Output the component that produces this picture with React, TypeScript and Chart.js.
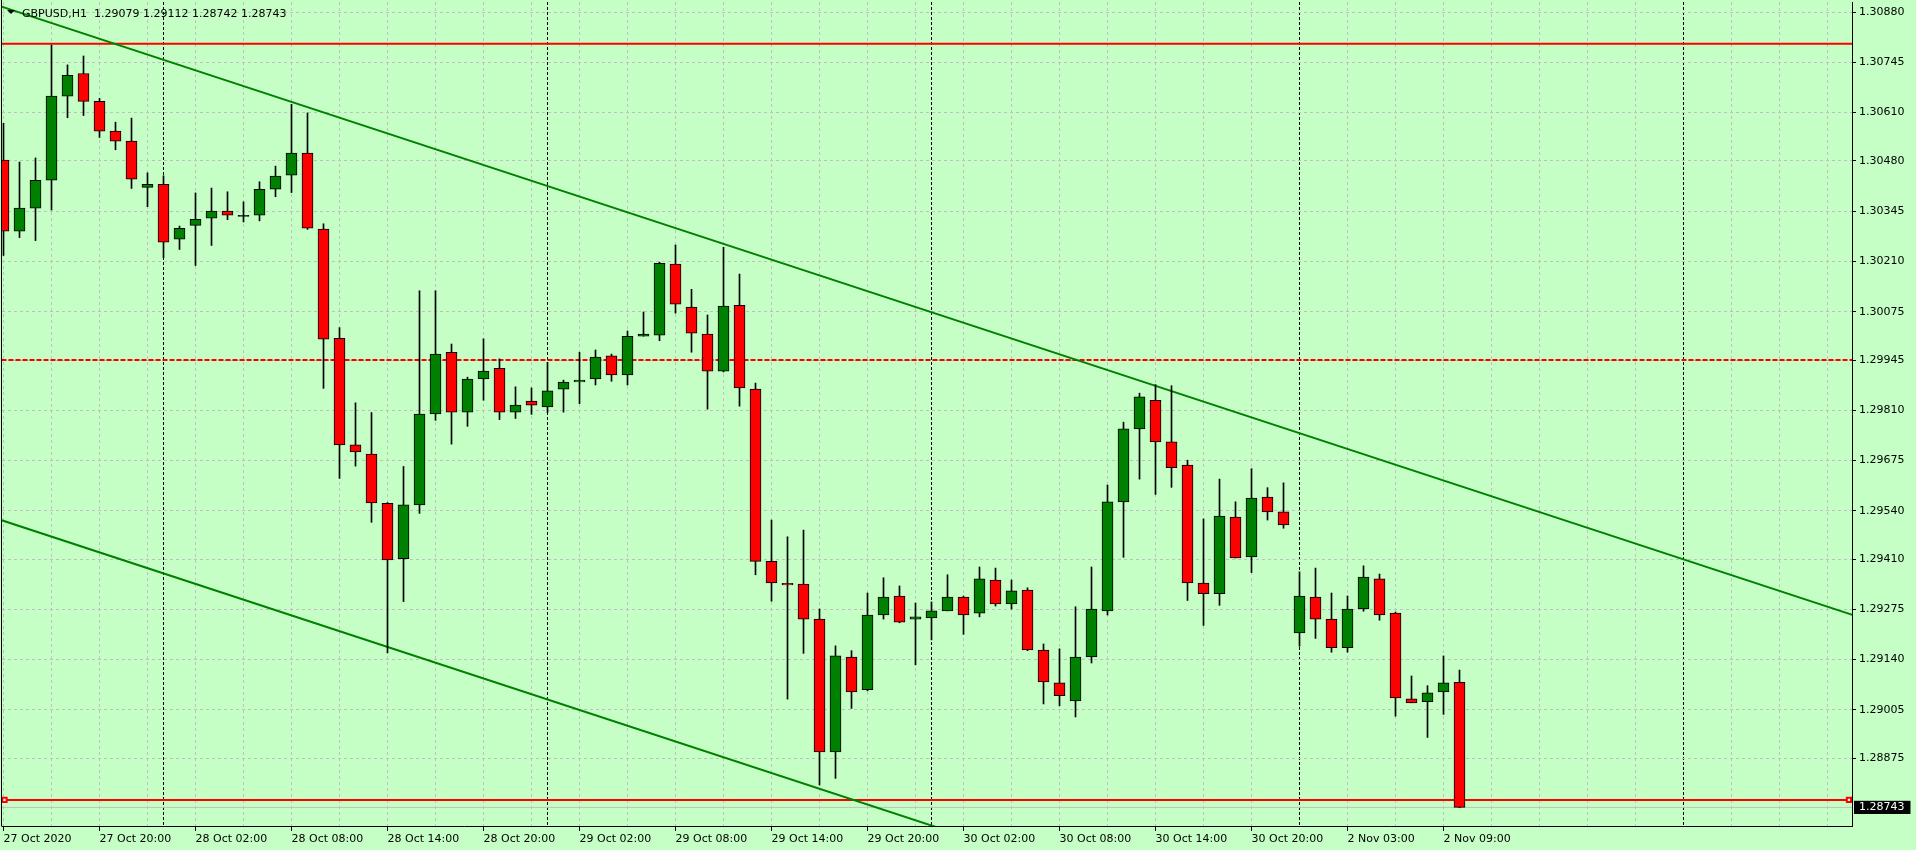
import React, { useEffect, useRef } from 'react';
import { Chart, registerables } from 'chart.js';

Chart.register(...registerables);

// ---- header text ----
const headerText = 'GBPUSD,H1  1.29079 1.29112 1.28742 1.28743';

// ---- candle data (H1 bars, index 0 = 27 Oct 14:00) ----
const opens = [
  1.30482, 1.30291, 1.30353, 1.30428, 1.30654, 1.30715, 1.30640, 1.30560, 1.30533, 1.30409,
  1.30417, 1.30270, 1.30307, 1.30326, 1.30345, 1.30331, 1.30334, 1.30404, 1.30442, 1.30501,
  1.30297, 1.30003, 1.29717, 1.29692, 1.29560, 1.29411, 1.29556, 1.29800, 1.29966, 1.29805,
  1.29894, 1.29923, 1.29805, 1.29835, 1.29819, 1.29867, 1.29886, 1.29894, 1.29956, 1.29905,
  1.30009, 1.30012, 1.30203, 1.30087, 1.30015, 1.29915, 1.30092, 1.29867, 1.29404, 1.29345,
  1.29343, 1.29249, 1.28892, 1.29147, 1.29059, 1.29260, 1.29311, 1.29249, 1.29252, 1.29271,
  1.29308, 1.29265, 1.29354, 1.29290, 1.29327, 1.29166, 1.29078, 1.29029, 1.29147, 1.29271,
  1.29564, 1.29760, 1.29837, 1.29725, 1.29663, 1.29346, 1.29317, 1.29523, 1.29416, 1.29577,
  1.29537, 1.29212, 1.29308, 1.29249, 1.29172, 1.29276, 1.29357, 1.29265, 1.29035, 1.29027,
  1.29053, 1.29079,
];
const highs = [
  1.30581, 1.30477, 1.30488, 1.30791, 1.30738, 1.30762, 1.30648, 1.30584, 1.30595, 1.30448,
  1.30440, 1.30305, 1.30394, 1.30407, 1.30397, 1.30370, 1.30424, 1.30466, 1.30632, 1.30609,
  1.30311, 1.30032, 1.29830, 1.29804, 1.29562, 1.29659, 1.30131, 1.30131, 1.29988, 1.29899,
  1.30002, 1.29948, 1.29873, 1.29870, 1.29939, 1.29891, 1.29966, 1.29972, 1.29961, 1.30023,
  1.30074, 1.30208, 1.30254, 1.30135, 1.30066, 1.30248, 1.30176, 1.29883, 1.29515, 1.29470,
  1.29488, 1.29276, 1.29177, 1.29164, 1.29319, 1.29360, 1.29338, 1.29292, 1.29295, 1.29368,
  1.29311, 1.29389, 1.29386, 1.29354, 1.29333, 1.29182, 1.29169, 1.29282, 1.29389, 1.29609,
  1.29778, 1.29856, 1.29879, 1.29876, 1.29676, 1.29518, 1.29625, 1.29564, 1.29653, 1.29602,
  1.29615, 1.29376, 1.29386, 1.29319, 1.29311, 1.29392, 1.29370, 1.29268, 1.29096, 1.29070,
  1.29150, 1.29112,
];
const lows = [
  1.30226, 1.30274, 1.30266, 1.30348, 1.30596, 1.30602, 1.30543, 1.30510, 1.30406, 1.30357,
  1.30220, 1.30242, 1.30199, 1.30253, 1.30322, 1.30316, 1.30319, 1.30384, 1.30395, 1.30296,
  1.29869, 1.29627, 1.29660, 1.29509, 1.29158, 1.29296, 1.29533, 1.29783, 1.29719, 1.29767,
  1.29837, 1.29785, 1.29788, 1.29799, 1.29804, 1.29805, 1.29828, 1.29878, 1.29888, 1.29878,
  1.30009, 1.29997, 1.30071, 1.29966, 1.29813, 1.29913, 1.29821, 1.29368, 1.29297, 1.29034,
  1.29157, 1.28803, 1.28821, 1.29009, 1.29056, 1.29249, 1.29239, 1.29126, 1.29193, 1.29271,
  1.29208, 1.29255, 1.29284, 1.29276, 1.29164, 1.29021, 1.29016, 1.28986, 1.29131, 1.29260,
  1.29415, 1.29625, 1.29584, 1.29603, 1.29299, 1.29232, 1.29286, 1.29413, 1.29374, 1.29515,
  1.29493, 1.29176, 1.29197, 1.29160, 1.29160, 1.29270, 1.29246, 1.28988, 1.29024, 1.28931,
  1.28993, 1.28742,
];
const closes = [
  1.30291, 1.30353, 1.30428, 1.30654, 1.30710, 1.30640, 1.30560, 1.30533, 1.30431, 1.30417,
  1.30262, 1.30299, 1.30323, 1.30345, 1.30334, 1.30331, 1.30404, 1.30439, 1.30501, 1.30299,
  1.30001, 1.29717, 1.29698, 1.29561, 1.29408, 1.29556, 1.29800, 1.29961, 1.29805, 1.29894,
  1.29915, 1.29805, 1.29824, 1.29824, 1.29862, 1.29886, 1.29891, 1.29953, 1.29905, 1.30009,
  1.30015, 1.30205, 1.30095, 1.30017, 1.29915, 1.30090, 1.29870, 1.29404, 1.29346, 1.29341,
  1.29249, 1.28892, 1.29150, 1.29053, 1.29260, 1.29308, 1.29241, 1.29255, 1.29271, 1.29308,
  1.29260, 1.29357, 1.29290, 1.29325, 1.29166, 1.29080, 1.29043, 1.29147, 1.29276, 1.29564,
  1.29760, 1.29846, 1.29725, 1.29656, 1.29346, 1.29317, 1.29526, 1.29413, 1.29574, 1.29537,
  1.29502, 1.29311, 1.29249, 1.29172, 1.29276, 1.29362, 1.29260, 1.29037, 1.29024, 1.29051,
  1.29078, 1.28743,
];

// ---- time axis ----
const labelIndices = [0, 6, 12, 18, 24, 30, 36, 42, 48, 54, 60, 66, 72, 78, 84, 90];
const timeLabels = [
  '27 Oct 2020', '27 Oct 20:00', '28 Oct 02:00', '28 Oct 08:00', '28 Oct 14:00', '28 Oct 20:00',
  '29 Oct 02:00', '29 Oct 08:00', '29 Oct 14:00', '29 Oct 20:00', '30 Oct 02:00', '30 Oct 08:00',
  '30 Oct 14:00', '30 Oct 20:00', '2 Nov 03:00', '2 Nov 09:00',
];
const daySeparators = [10, 34, 58, 81, 105];
const gridStepBars = 3;
const xMin = -0.09375;
const xMax = 115.53125;

// ---- price axis ----
const priceTicks = [
  1.28875, 1.29005, 1.29140, 1.29275, 1.29410, 1.29540, 1.29675, 1.29810,
  1.29945, 1.30075, 1.30210, 1.30345, 1.30480, 1.30610, 1.30745, 1.30880,
];
const bidPrice = 1.28743;
const yMin = 1.28693;
const yMax = 1.30907;

// ---- drawn objects (bar index, price) ----
const resistanceLevel = 1.30795;
const pivotLevel = 1.29945;
const supportLevel = 1.28763;
const supportAnchors = [0.0625, 115.34];
const upperTrendIdx = [-1, 116];
const upperTrendPrice = [1.30907, 1.29254];
const lowerTrendIdx = [-1, 60];
const lowerTrendPrice = [1.29527, 1.28666];

const BG = '#c6ffc6';
const GRID = '#c0c0c0';
const BULL = '#008000';
const BEAR = '#ff0000';
const FONT = { family: '"DejaVu Sans"', size: 11 };

const bgPlugin = {
  id: 'bgFill',
  beforeDraw(chart: any) {
    const { ctx, width, height } = chart;
    ctx.save();
    ctx.fillStyle = BG;
    ctx.fillRect(0, 0, width, height);
    ctx.restore();
  },
};

const framePlugin = {
  id: 'frameAndHeader',
  afterDraw(chart: any) {
    const { ctx, chartArea: a } = chart;
    ctx.save();
    ctx.strokeStyle = '#000';
    ctx.lineWidth = 1;
    ctx.setLineDash([]);
    ctx.beginPath();
    ctx.moveTo(a.left - 0.5, a.bottom + 0.5);
    ctx.lineTo(a.left - 0.5, a.top - 2);
    ctx.stroke();
    // header
    ctx.fillStyle = '#000';
    ctx.beginPath();
    ctx.moveTo(7, 10);
    ctx.lineTo(15, 10);
    ctx.lineTo(11, 14);
    ctx.closePath();
    ctx.fill();
    ctx.font = '11px "DejaVu Sans"';
    ctx.textBaseline = 'alphabetic';
    ctx.textAlign = 'left';
    ctx.fillText(headerText, 22, 17);
    ctx.restore();
  },
};

export default function App() {
  const ref = useRef<HTMLCanvasElement>(null);

  useEffect(() => {
    const canvas = ref.current;
    if (!canvas) return;
    const idx = opens.map((_, i) => i);
    const bodyColors = idx.map((i) =>
      closes[i] > opens[i] ? BULL : closes[i] < opens[i] ? BEAR : '#000000'
    );
    const gridIdx: number[] = [];
    for (let v = 0; v <= xMax; v += gridStepBars) gridIdx.push(v);
    const xTickValues = Array.from(new Set([...gridIdx, ...daySeparators])).sort((p, q) => p - q);
    const labelFor = (v: number) => {
      const k = labelIndices.indexOf(v);
      return k >= 0 ? timeLabels[k] : '';
    };
    const isSep = (v: any) => daySeparators.indexOf(v) >= 0;
    const yTickValues = [bidPrice, ...priceTicks].sort((p, q) => p - q);
    const isBid = (v: any) => Math.abs(v - bidPrice) < 1e-9;

    const hLine = (y: number, xs: number[]) => xs.map((x) => ({ x, y }));

    const chart = new Chart(canvas, {
      type: 'bar',
      data: {
        datasets: [
          {
            type: 'line',
            label: 'upper trend',
            data: upperTrendIdx.map((x, k) => ({ x, y: upperTrendPrice[k] })),
            borderColor: BULL,
            borderWidth: 2,
            pointRadius: 0,
            pointHoverRadius: 0,
            fill: false,
            clip: 0,
            order: 3,
          },
          {
            type: 'line',
            label: 'lower trend',
            data: lowerTrendIdx.map((x, k) => ({ x, y: lowerTrendPrice[k] })),
            borderColor: BULL,
            borderWidth: 2,
            pointRadius: 0,
            pointHoverRadius: 0,
            fill: false,
            clip: 0,
            order: 3,
          },
          {
            type: 'line',
            label: 'resistance',
            data: hLine(resistanceLevel, [-1, 116]),
            borderColor: BEAR,
            borderWidth: 2,
            pointRadius: 0,
            pointHoverRadius: 0,
            clip: 0,
            order: 3,
          },
          {
            type: 'line',
            label: 'pivot',
            data: hLine(pivotLevel, [-1, 116]),
            borderColor: BEAR,
            borderWidth: 2,
            borderDash: [5, 2],
            pointRadius: 0,
            pointHoverRadius: 0,
            clip: 0,
            order: 3,
          },
          {
            type: 'line',
            label: 'bid',
            data: hLine(bidPrice, [-1, 116]),
            borderColor: GRID,
            borderWidth: 1,
            pointRadius: 0,
            pointHoverRadius: 0,
            clip: 0,
            order: 3,
          },
          {
            type: 'line',
            label: 'support',
            data: hLine(supportLevel, [-1, supportAnchors[0], supportAnchors[1], 116]),
            borderColor: BEAR,
            borderWidth: 2,
            pointRadius: [0, 3, 3, 0],
            pointHoverRadius: 0,
            pointStyle: 'rect',
            pointBackgroundColor: '#ffffff',
            pointBorderColor: BEAR,
            pointBorderWidth: 2,
            clip: 0,
            order: 3,
          },
          {
            type: 'bar',
            label: 'wicks',
            data: idx.map((i) => ({ x: i, y: [lows[i], highs[i]] })),
            backgroundColor: '#000000',
            borderWidth: 0,
            barThickness: 1,
            grouped: false,
            order: 2,
          },
          {
            type: 'bar',
            label: 'bodies',
            data: idx.map((i) => ({ x: i, y: [opens[i], closes[i]] })),
            backgroundColor: bodyColors,
            borderColor: '#000000',
            borderWidth: 1,
            borderSkipped: false,
            barThickness: 11,
            minBarLength: 1,
            grouped: false,
            order: 1,
          },
        ] as any,
      },
      options: {
        animation: false,
        responsive: false,
        devicePixelRatio: 1,
        events: [],
        layout: { autoPadding: false, padding: { left: 2, top: 2, right: 0, bottom: 0 } },
        plugins: {
          legend: { display: false },
          tooltip: { enabled: false },
          title: { display: false },
        },
        scales: {
          x: {
            type: 'linear',
            min: xMin,
            max: xMax,
            bounds: 'data',
            offset: false,
            afterBuildTicks: (s: any) => {
              s.ticks = xTickValues.map((v) => ({ value: v }));
            },
            afterFit: (s: any) => {
              s.height = 24;
              s.paddingLeft = 0;
              s.paddingRight = 0;
            },
            ticks: {
              autoSkip: false,
              maxRotation: 0,
              minRotation: 0,
              align: 'start',
              padding: 2,
              color: '#000',
              font: FONT,
              callback: (v: any) => labelFor(Number(v)),
            },
            grid: {
              offset: false,
              color: (c: any) => (c.tick && isSep(c.tick.value) ? '#000000' : GRID),
              lineWidth: 1,
              tickLength: 5,
              tickColor: (c: any) =>
                c.tick && labelIndices.indexOf(c.tick.value) >= 0 ? '#000000' : 'rgba(0,0,0,0)',
            },
            border: {
              display: true,
              color: '#000',
              width: 1,
              dash: (c: any) => (c.tick && isSep(c.tick.value) ? [3, 2] : [3, 3]),
            },
          },
          y: {
            type: 'linear',
            position: 'right',
            min: yMin,
            max: yMax,
            bounds: 'data',
            afterBuildTicks: (s: any) => {
              s.ticks = yTickValues.map((v) => ({ value: v }));
            },
            afterFit: (s: any) => {
              s.width = 64;
              s.paddingTop = 0;
              s.paddingBottom = 0;
            },
            ticks: {
              autoSkip: false,
              padding: 3,
              font: FONT,
              color: (c: any) => (c.tick && isBid(c.tick.value) ? '#ffffff' : '#000000'),
              callback: (v: any) => Number(v).toFixed(5),
              showLabelBackdrop: (c: any) => !!(c.tick && isBid(c.tick.value)),
              backdropColor: '#000000',
              backdropPadding: { left: 5, right: 6, top: 0, bottom: 0 },
            },
            grid: {
              color: (c: any) => (c.tick && isBid(c.tick.value) ? 'rgba(0,0,0,0)' : GRID),
              lineWidth: 1,
              tickLength: 4,
              tickColor: (c: any) =>
                c.tick && isBid(c.tick.value) ? 'rgba(0,0,0,0)' : '#000000',
            },
            border: { display: true, color: '#000', width: 1, dash: [3, 3] },
          },
        },
      } as any,
      plugins: [bgPlugin, framePlugin],
    });
    return () => chart.destroy();
  }, []);

  return (
    <div style={{ position: 'absolute', left: 0, top: 0, width: 1916, height: 850, background: BG }}>
      <canvas ref={ref} width={1916} height={850} style={{ display: 'block' }} />
    </div>
  );
}
